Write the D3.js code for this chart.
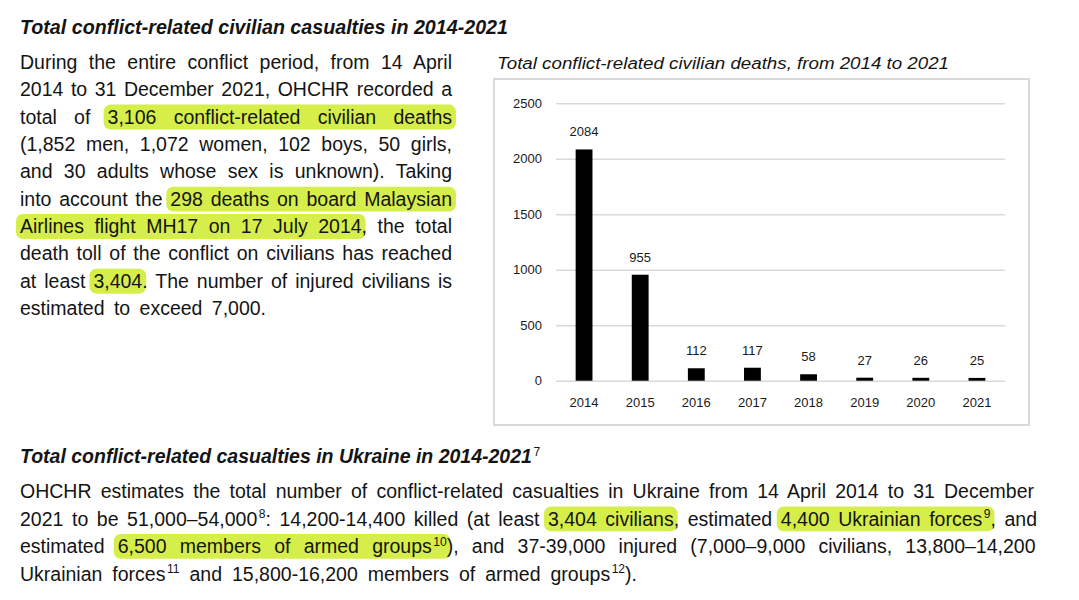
<!DOCTYPE html>
<html>
<head>
<meta charset="utf-8">
<script src="https://cdn.jsdelivr.net/npm/d3@7"></script>
<style>
  body { margin: 0; background: #fff; }
  svg { display: block; font-family: "Liberation Sans", Arial, sans-serif; }
</style>
</head>
<body>
<svg id="page" width="1079" height="600"></svg>
<script>
// chart data
const years = ["2014", "2015", "2016", "2017", "2018", "2019", "2020", "2021"];
const deaths = [2084, 955, 112, 117, 58, 27, 26, 25];
const yTicks = [0, 500, 1000, 1500, 2000, 2500];
const chartTitle = "Total conflict-related civilian deaths, from 2014 to 2021";

// page text, line by line. P = plain, H = highlighted, S = superscript
const P = t => ({ t: t });
const H = t => ({ t: t, h: true });
const S = t => ({ t: t, s: true });
const HS = t => ({ t: t, h: true, s: true });

const heading1 = [P("Total conflict-related civilian casualties in 2014-2021")];
const leftLines = [
    [P("During the entire conflict period, from 14 April")],
    [P("2014 to 31 December 2021, OHCHR recorded a")],
    [P("total of "), H("3,106 conflict-related civilian deaths")],
    [P("(1,852 men, 1,072 women, 102 boys, 50 girls,")],
    [P("and 30 adults whose sex is unknown). Taking")],
    [P("into account the "), H("298 deaths on board Malaysian")],
    [H("Airlines flight MH17 on 17 July 2014"), P(", the total")],
    [P("death toll of the conflict on civilians has reached")],
    [P("at least "), H("3,404"), P(". The number of injured civilians is")],
    [P("estimated to exceed 7,000.")]
];
const heading2 = [P("Total conflict-related casualties in Ukraine in 2014-2021"), S("7")];
const bottomLines = [
    [P("OHCHR estimates the total number of conflict-related casualties in Ukraine from 14 April 2014 to 31 December")],
    [P("2021 to be 51,000\u201354,000"), S("8"), P(": 14,200-14,400 killed (at least "), H("3,404 civilians"),
     P(", estimated "), H("4,400 Ukrainian forces"), HS("9"), P(", and")],
    [P("estimated "), H("6,500 members of armed groups"), HS("10"),
     P("), and 37-39,000 injured (7,000\u20139,000 civilians, 13,800\u201314,200")],
    [P("Ukrainian forces"), S("11"), P(" and 15,800-16,200 members of armed groups"), S("12"), P(").")]
];
// where each line should end (justified text)
const leftEnds = [452, 452, 452, 452, 452, 452, 452, 452, 452, 266];
const bottomEnds = [1034, 1034, 1034, 634];

const svg = d3.select("#page");
const hlLayer = svg.append("g");
const textLayer = svg.append("g");

function drawLine(segs, x, y, right, o) {
    const t = textLayer.append("text")
        .attr("x", x)
        .attr("y", y)
        .attr("fill", "#141414")
        .style("font-size", o.size + "px")
        .style("font-weight", o.bold ? 700 : 400)
        .style("font-style", o.italic ? "italic" : "normal");
    let raised = false;
    segs.forEach(s => {
        const sp = t.append("tspan").text(s.t);
        if (s.s) {
            // footnote marks are set upright and light, even in headings
            sp.style("font-size", (o.size * 0.62) + "px")
                .style("font-weight", 400)
                .style("font-style", "normal");
            if (!raised) sp.attr("dy", -o.size * 0.38).attr("dx", 1.5);
            raised = true;
        } else if (raised) {
            sp.attr("dy", o.size * 0.38);
            raised = false;
        }
    });
    const node = t.node();
    const full = segs.map(s => s.t).join("");
    if (right != null) {
        const nat = node.getComputedTextLength();
        const target = right - x;
        const spaces = (full.match(/ /g) || []).length;
        if (nat < target && spaces > 0) {
            t.style("word-spacing", ((target - nat) / spaces) + "px");
        } else if (nat > target) {
            t.attr("textLength", target).attr("lengthAdjust", "spacingAndGlyphs");
        }
    }
    // yellow marker behind highlighted runs
    let i = 0, start = -1;
    segs.forEach((s, k) => {
        if (s.h && start < 0) start = i;
        i += s.t.length;
        const next = segs[k + 1];
        if (s.h && (!next || !next.h)) {
            const x0 = node.getStartPositionOfChar(start).x;
            const x1 = node.getEndPositionOfChar(i - 1).x;
            hlLayer.append("rect")
                .attr("x", x0 - 4)
                .attr("y", y - o.size * 0.98)
                .attr("width", x1 - x0 + 8)
                .attr("height", o.size * 1.28)
                .attr("rx", 7)
                .attr("fill", "#d6ee4a");
            start = -1;
        }
    });
}

// left column
drawLine(heading1, 20, 34, 508, { size: 20, bold: true, italic: true });
leftLines.forEach((segs, k) => {
    drawLine(segs, 20, 69 + k * 27.35, leftEnds[k], { size: 19.5 });
});

// bottom section
drawLine(heading2, 20, 463, null, { size: 19.5, bold: true, italic: true });
bottomLines.forEach((segs, k) => {
    drawLine(segs, 20, 498 + k * 27.5, bottomEnds[k], { size: 19.5 });
});

// chart
const chart = svg.append("g");
chart.append("text")
    .attr("x", 497)
    .attr("y", 69)
    .attr("fill", "#141414")
    .attr("textLength", 452)
    .attr("lengthAdjust", "spacingAndGlyphs")
    .style("font-size", "16px")
    .style("font-style", "italic")
    .text(chartTitle);

chart.append("rect")
    .attr("x", 494)
    .attr("y", 79)
    .attr("width", 535)
    .attr("height", 346)
    .attr("fill", "none")
    .attr("stroke", "#d9d9d9")
    .attr("stroke-width", 2);

const x = d3.scaleBand()
    .domain(years)
    .range([556, 1005])
    .paddingInner(0.7)
    .paddingOuter(0.35);

const y = d3.scaleLinear()
    .domain([0, 2500])
    .range([380.7, 103.3]);

chart.append("g")
    .attr("transform", "translate(556,0)")
    .call(d3.axisLeft(y).tickValues(yTicks).tickFormat(d3.format("d"))
        .tickSize(-(1005 - 556)).tickPadding(14))
    .call(g => g.attr("font-family", null).attr("font-size", null))
    .call(g => g.select(".domain").remove())
    .call(g => g.selectAll("line").attr("stroke", "#d9d9d9").attr("stroke-width", 1.6))
    .call(g => g.selectAll("text").attr("fill", "#1a1a1a").style("font-size", "13px"));

chart.append("g")
    .attr("transform", "translate(0," + y(0) + ")")
    .call(d3.axisBottom(x).tickSize(0).tickPadding(17))
    .call(g => g.attr("font-family", null).attr("font-size", null))
    .call(g => g.select(".domain").remove())
    .call(g => g.selectAll("text").attr("fill", "#1a1a1a").style("font-size", "13px"));

const rows = years.map((yr, k) => ({ year: yr, value: deaths[k] }));

chart.selectAll(".bar")
    .data(rows)
    .enter()
    .append("rect")
    .attr("class", "bar")
    .attr("x", d => x(d.year))
    .attr("y", d => y(d.value))
    .attr("width", x.bandwidth())
    .attr("height", d => y(0) - y(d.value))
    .attr("fill", "#000");

chart.selectAll(".val")
    .data(rows)
    .enter()
    .append("text")
    .attr("class", "val")
    .attr("x", d => x(d.year) + x.bandwidth() / 2)
    .attr("y", d => y(d.value) - 13)
    .attr("text-anchor", "middle")
    .attr("fill", "#1a1a1a")
    .style("font-size", "13px")
    .text(d => d.value);
</script>
</body>
</html>
